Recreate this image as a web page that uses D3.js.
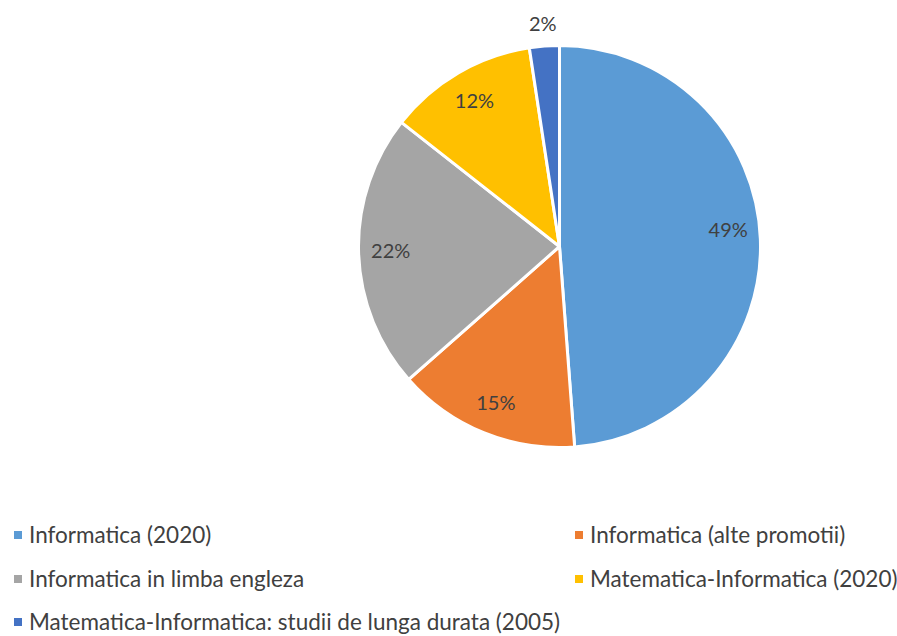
<!DOCTYPE html>
<html lang="ro">
<head>
<meta charset="UTF-8">
<title>Pie chart</title>
<style>
  body { margin: 0; background: #fff; }
  text { font-family: Lato, "Open Sans", sans-serif; fill: #404040; }
</style>
</head>
<body>
<script src="https://d3js.org/d3.v7.min.js"></script>
<script>
// chart data
const categories = [
    "Informatica (2020)",
    "Informatica (alte promotii)",
    "Informatica in limba engleza",
    "Matematica-Informatica (2020)",
    "Matematica-Informatica: studii de lunga durata (2005)"
];
const values = [48.8, 14.7, 22.1, 12.0, 2.4];
const colors = ["#5b9bd5", "#ed7d31", "#a5a5a5", "#ffc000", "#4472c4"];

const width = 897, height = 636;
const cx = 559.5, cy = 246.5, radius = 201;

const svg = d3.select("body").append("svg")
    .attr("width", width)
    .attr("height", height);

const pie = d3.pie().sort(null).value(d => d)(values);
const total = d3.sum(values);

const arc = d3.arc().innerRadius(0).outerRadius(radius);

const g = svg.append("g").attr("transform", `translate(${cx},${cy})`);

g.selectAll("path")
    .data(pie)
    .enter()
    .append("path")
    .attr("d", arc)
    .attr("fill", (d, i) => colors[i])
    .attr("stroke", "#fff")
    .attr("stroke-width", 3)
    .attr("stroke-linejoin", "round");

// labels: inside for big slices, outside for the tiny one
const labelArc = d3.arc().innerRadius(radius * 0.84).outerRadius(radius * 0.84);
const outerArc = d3.arc().innerRadius(radius * 1.11).outerRadius(radius * 1.11);

g.selectAll("text.lbl")
    .data(pie)
    .enter()
    .append("text")
    .attr("class", "lbl")
    .attr("transform", d => {
        const p = (d.value / total < 0.05 ? outerArc : labelArc).centroid(d);
        // biggest slice label sits a bit higher in the original
        if (d.index === 0) p[1] -= 10;
        return `translate(${p[0]},${p[1]})`;
    })
    .attr("text-anchor", "middle")
    .attr("dy", "0.35em")
    .style("font-size", "20px")
    .text(d => Math.round(d.value / total * 100) + "%");

// legend
const legendX = [14, 575];
const legendY = [535, 579, 622];
const legend = svg.append("g")
    .selectAll("g")
    .data(categories)
    .enter()
    .append("g")
    .attr("transform", (d, i) => `translate(${legendX[i % 2]},${legendY[Math.floor(i / 2)]})`);

legend.append("rect")
    .attr("x", 0)
    .attr("y", -4)
    .attr("width", 8)
    .attr("height", 8)
    .attr("fill", (d, i) => colors[i]);

legend.append("text")
    .attr("x", 15)
    .attr("dy", "0.35em")
    .style("font-size", "22.5px")
    .text(d => d);
</script>
</body>
</html>
